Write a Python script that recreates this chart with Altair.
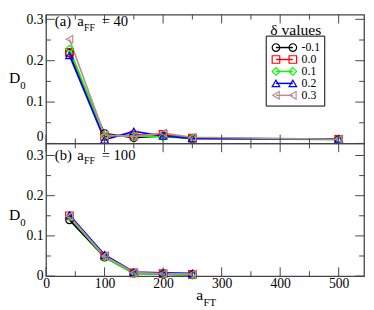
import altair as alt
import pandas as pd

# ---------------- data ----------------
A_FT_A = [40, 100, 150, 200, 250, 500]
A_FT_B = [40, 100, 150, 200, 250]
DELTAS = ["-0.1", "0.0", "0.1", "0.2", "0.3"]

D0_A_M01 = [0.218, 0.024, 0.014, 0.018, 0.012, 0.010]
D0_A_00 = [0.220, 0.017, 0.020, 0.022, 0.013, 0.010]
D0_A_01 = [0.228, 0.018, 0.018, 0.016, 0.013, 0.009]
D0_A_02 = [0.213, 0.009, 0.029, 0.018, 0.012, 0.011]
D0_A_03 = [0.252, 0.020, 0.017, 0.025, 0.015, 0.010]

D0_B_M01 = [0.140, 0.047, 0.007, 0.005, 0.003]
D0_B_00 = [0.150, 0.050, 0.008, 0.006, 0.004]
D0_B_01 = [0.147, 0.047, 0.006, 0.005, 0.003]
D0_B_02 = [0.152, 0.053, 0.010, 0.008, 0.007]
D0_B_03 = [0.149, 0.050, 0.009, 0.006, 0.005]

X_MAJOR = [0, 100, 200, 300, 400, 500]
X_MINOR = [50, 150, 250, 350, 450]
Y_MAJOR = [0, 0.1, 0.2, 0.3]
Y_MINOR = [0.05, 0.15, 0.25]

COLORS = ["#000000", "#ff0000", "#00ff00", "#0000ff", "#bc8f8f"]
SHAPES = ["circle", "square", "diamond", "triangle-up", "triangle-left"]

SERIF = "Liberation Serif, Times New Roman, Times, DejaVu Serif, serif"
FRAME = "#444444"

W = 326
XMAX = W / 0.6
H_A, YMAX_A = 132, 0.3113
H_B, YMAX_B = 136, 0.33


def long_df(xs, series):
    rows = []
    for d, vals in zip(DELTAS, series):
        for x, v in zip(xs, vals):
            rows.append({"aFT": x, "D0": v, "delta": d})
    return pd.DataFrame(rows)


df_a = long_df(A_FT_A, [D0_A_M01, D0_A_00, D0_A_01, D0_A_02, D0_A_03])
df_b = long_df(A_FT_B, [D0_B_M01, D0_B_00, D0_B_01, D0_B_02, D0_B_03])

color = alt.Color("delta:N", scale=alt.Scale(domain=DELTAS, range=COLORS), legend=None)
shape = alt.Shape("delta:N", scale=alt.Scale(domain=DELTAS, range=SHAPES), legend=None)


def txt(s, x, y, size, align="left", baseline="alphabetic"):
    return alt.Chart(pd.DataFrame({"t": [s]})).mark_text(
        align=align, baseline=baseline, font=SERIF, fontSize=size, color="black"
    ).encode(x=alt.value(x), y=alt.value(y), text="t:N")


def panel(df, h, ymax, show_x, texts, extra, flush):
    xs = alt.Scale(domain=[0, XMAX], nice=False, zero=False)
    ys = alt.Scale(domain=[0, ymax], nice=False, zero=False)
    if show_x:
        xaxis = alt.Axis(values=X_MAJOR, format="d", labelFont=SERIF, labelFontSize=14,
                         labelColor="black", ticks=False, tickSize=0, domain=False,
                         grid=False, labelPadding=1, title=None, labelFlush=False)
    else:
        xaxis = None
    yaxis = alt.Axis(values=Y_MAJOR, format=".1~f", labelFont=SERIF, labelFontSize=14,
                     labelColor="black", ticks=False, tickSize=0, domain=False,
                     grid=False, labelPadding=3, title=None, labelFlush=flush)
    base = alt.Chart(df)
    lines = base.mark_line(strokeWidth=1.7).encode(
        x=alt.X("aFT:Q", scale=xs, axis=xaxis),
        y=alt.Y("D0:Q", scale=ys, axis=yaxis),
        color=color,
    )
    pts = base.mark_point(filled=False, size=60, strokeWidth=1.2, opacity=1).encode(
        x=alt.X("aFT:Q", scale=xs, axis=xaxis),
        y=alt.Y("D0:Q", scale=ys, axis=None),
        color=color,
        shape=shape,
    )
    layers = [lines, pts]
    for vals, ln in ((X_MAJOR, 9), (X_MINOR, 5)):
        b = alt.Chart(pd.DataFrame({"v": vals})).mark_rule(color=FRAME, strokeWidth=1)
        layers.append(b.encode(x=alt.X("v:Q", scale=xs, axis=xaxis), y=alt.value(h), y2=alt.value(h - ln)))
        layers.append(b.encode(x=alt.X("v:Q", scale=xs, axis=xaxis), y=alt.value(0), y2=alt.value(ln)))
    for vals, ln in ((Y_MAJOR, 9), (Y_MINOR, 5)):
        b = alt.Chart(pd.DataFrame({"v": vals})).mark_rule(color=FRAME, strokeWidth=1)
        layers.append(b.encode(y=alt.Y("v:Q", scale=ys, axis=None), x=alt.value(0), x2=alt.value(ln)))
        layers.append(b.encode(y=alt.Y("v:Q", scale=ys, axis=None), x=alt.value(W), x2=alt.value(W - ln)))
    layers += texts
    layers += extra
    return alt.layer(*layers).resolve_scale(y="independent").properties(width=W, height=h)


# legend for top panel
leg_df = pd.DataFrame({"delta": DELTAS, "idx": list(range(len(DELTAS)))})
ly = alt.Y("idx:Q", scale=alt.Scale(domain=[0, 4], range=[33.7, 82.7]), axis=None)
legb = alt.Chart(leg_df)
legend_layers = [
    alt.Chart(pd.DataFrame({"k": [0]})).mark_rect(fill="white", stroke="black", strokeWidth=1).encode(
        x=alt.value(225.7), x2=alt.value(285.7), y=alt.value(22), y2=alt.value(93.7)),
    txt("\u03b4 values", 256, 21, 16, align="center"),
    legb.mark_rule(strokeWidth=1.5).encode(x=alt.value(235.7), x2=alt.value(253), y=ly, color=color),
    legb.mark_point(filled=False, size=60, strokeWidth=1.2, opacity=1).encode(
        x=alt.value(235.7), y=ly, color=color, shape=shape),
    legb.mark_point(filled=False, size=60, strokeWidth=1.2, opacity=1).encode(
        x=alt.value(253), y=ly, color=color, shape=shape),
    legb.mark_text(align="left", baseline="middle", font=SERIF, fontSize=12, color="black").encode(
        x=alt.value(262), y=ly, text="delta:N"),
]

texts_a = [
    txt("(a)", 9, 12, 15),
    txt("a", 32, 12, 15),
    txt("FF", 39, 16.5, 10),
    txt("= 40", 57, 12, 15),
    txt("D", -38, 70, 16),
    txt("0", -26.5, 76, 11),
]
texts_b = [
    txt("(b)", 9, 17, 15),
    txt("a", 32, 17, 15),
    txt("FF", 39, 21.5, 10),
    txt("= 100", 57, 17, 15),
    txt("D", -38, 78, 16),
    txt("0", -26.5, 85, 11),
    txt("a", 154, 161, 16),
    txt("FT", 161.5, 166.5, 11),
]

top = panel(df_a, H_A, YMAX_A, False, texts_a, legend_layers, True)
bottom = panel(df_b, H_B, YMAX_B, True, texts_b, [], False)

chart = alt.vconcat(top, bottom, spacing=0, bounds="flush").properties(
    padding=0, background="white"
).configure_view(stroke=FRAME, strokeWidth=1.3)

chart.save("out.html", embed_options={"renderer": "svg", "actions": False})
